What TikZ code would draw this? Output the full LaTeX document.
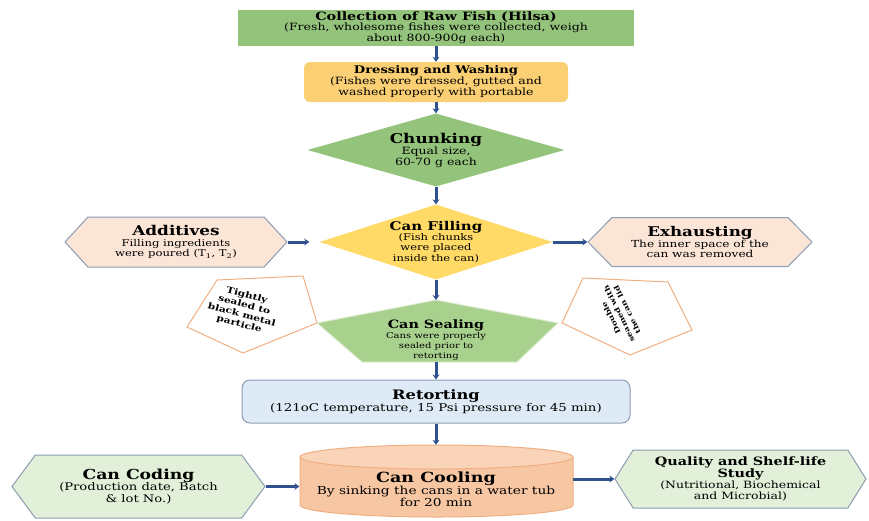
\documentclass[tikz,border=0pt]{standalone}
\usepackage{fontspec}
\setmainfont{DejaVu Serif}[FakeStretch=1.25]
\usepackage{tikz}
\usetikzlibrary{arrows.meta, shapes.geometric, shapes.symbols}
\definecolor{flowblue}{RGB}{47,82,143}
\definecolor{leaf}{RGB}{148,196,124}
\definecolor{sealgreen}{RGB}{169,209,142}
\definecolor{sand}{RGB}{251,208,116}
\definecolor{lemon}{RGB}{255,218,102}
\definecolor{peach}{RGB}{251,229,214}
\definecolor{mint}{RGB}{226,240,217}
\definecolor{sky}{RGB}{222,235,247}
\definecolor{salmon}{RGB}{247,198,162}
\definecolor{hexline}{RGB}{140,156,180}
\definecolor{rim}{RGB}{240,175,130}
\newcommand{\hd}[2][12]{{\fontsize{#1}{#1}\selectfont\bfseries #2}}
\tikzset{
  txt/.style={align=center, inner sep=0pt, font=\fontsize{10}{11}\selectfont},
  hexbox/.style={txt, signal, signal to=west and east, draw=hexline, line width=1pt},
  dia/.style={txt, diamond},
  note/.style={align=center, inner sep=0pt, font=\fontsize{8.5}{10}\selectfont\bfseries},
  flowline/.style={-{Stealth[length=5pt, width=7pt]}, line width=3pt, color=flowblue}
}

\begin{document}
\begin{tikzpicture}[x=1pt, y=-1pt]
		\useasboundingbox (0,0) rectangle (869,520);
		% 主流程
		\node[txt, fill=leaf, font=\fontsize{10}{10.5}\selectfont, minimum width=396, minimum height=36] (collect) at (436,27.5)
			{\hd[11.5]{Collection of Raw Fish (Hilsa)}\\(Fresh, wholesome fishes were collected, weigh\\about 800-900g each)};
		\node[txt, fill=sand, rounded corners=6pt, minimum width=264, minimum height=40] (dress) at (436,82)
			{\hd[10.5]{Dressing and Washing}\\(Fishes were dressed, gutted and\\washed properly with portable};
		\node[dia, fill=leaf, aspect=3.5, minimum width=257, minimum height=73] (chunk) at (436,150)
			{\hd[13.5]{Chunking}\\Equal size,\\60-70 g each};
		\node[dia, fill=lemon, font=\fontsize{9.2}{10.2}\selectfont, aspect=3.1, minimum width=233, minimum height=75] (fill) at (436,242)
			{\hd[12]{Can Filling}\\(Fish chunks\\were placed\\inside the can)};
		% 两侧
		\node[hexbox, fill=peach, font=\fontsize{9.3}{10.3}\selectfont, signal pointer angle=95, minimum width=222, minimum height=50] (add) at (176,242)
			{\hd[13.5]{Additives}\\Filling ingredients\\were poured (T\textsubscript{1}, T\textsubscript{2})};
		\node[hexbox, fill=peach, font=\fontsize{9.7}{10.7}\selectfont, signal pointer angle=91, minimum width=224, minimum height=49] (exh) at (700,242)
			{\hd[13.4]{Exhausting}\\The inner space of the\\can was removed};
		% 封口
		\draw[rim, fill=white, line width=1pt] (217,280) -- (303,276) -- (317,323) -- (243,353) -- (187,327) -- cycle;
		\draw[rim, fill=white, line width=1pt] (583,278) -- (668,282) -- (692,330) -- (630,355) -- (562,323) -- cycle;
		\node[note, rotate=-15] (tight) at (243,310) {Tightly\\sealed to\\black metal\\particle};
		\node[note, font=\fontsize{7}{9}\selectfont\bfseries, rotate=116] (seam) at (619,314) {Double\\seamed with\\the can lid};
		\coordinate (sealtop) at (436,300);
		\coordinate (sealbase) at (436,362);
		\draw[white!60!sealgreen, fill=sealgreen, line width=1pt] (sealtop) -- (558,323) -- (517,362) -- (362,362) -- (317,323) -- cycle;
		\node[txt, font=\fontsize{8}{10}\selectfont] (seal) at (436,340)
			{\hd[11.5]{Can Sealing}\\Cans were properly\\sealed prior to\\retorting};
		\node[txt, fill=sky, draw=hexline, line width=1pt, font=\fontsize{10.7}{11.7}\selectfont, rounded corners=8pt, minimum width=388, minimum height=43] (retort) at (436,401.5)
			{\hd[13]{Retorting}\\(121oC temperature, 15 Psi pressure for 45 min)};
		% 冷却
		\filldraw[draw=rim, fill=salmon, line width=1pt] (300,457) -- (300,505)
			arc[start angle=180, end angle=360, x radius=136.5pt, y radius=12pt] -- (573,457) -- cycle;
		\filldraw[draw=rim, fill=salmon!75!white, line width=1pt] (436.5,457) ellipse[x radius=136.5pt, y radius=12pt];
		\node[txt, font=\fontsize{11}{12}\selectfont, minimum width=273, minimum height=88] (cool) at (436,489)
			{\hd[14]{Can Cooling}\\By sinking the cans in a water tub\\for 20 min};
		\node[hexbox, fill=mint, font=\fontsize{10.5}{11.5}\selectfont, signal pointer angle=107, minimum width=253, minimum height=63] (code) at (138.5,486.5)
			{\hd[13.8]{Can Coding}\\(Production date, Batch\\\& lot No.)};
		\node[hexbox, fill=mint, signal pointer angle=116, minimum width=251, minimum height=58] (qual) at (740.5,479)
			{\hd[11.5]{Quality and Shelf-life}\\\hd[11.5]{Study}\\(Nutritional, Biochemical\\and Microbial)};
		% 箭头
		\draw[flowline] (collect) -- (dress);
		\draw[flowline] (dress) -- (chunk);
		\draw[flowline] (chunk) -- (fill);
		\draw[flowline] (fill) -- (sealtop);
		\draw[flowline] (sealbase) -- (retort);
		\draw[flowline] (retort) -- (cool);
		\draw[flowline, shorten >=10pt] (add.east) -- (fill.west);
		\draw[flowline] (fill.east) -- (exh.west);
		\draw[flowline] (code.east) -- (code.east -| cool.west);
		\draw[flowline] (qual.west -| cool.east) -- (qual.west);
	\end{tikzpicture}
\end{document}
